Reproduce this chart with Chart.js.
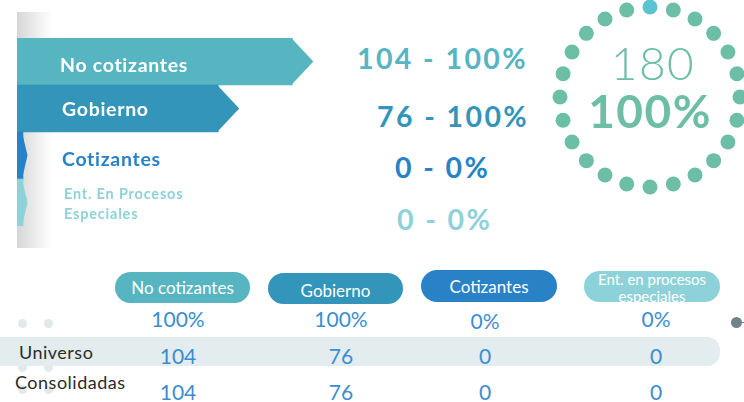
<!DOCTYPE html>
<html><head><meta charset="utf-8">
<script src="https://cdn.jsdelivr.net/npm/chart.js@4.4.0/dist/chart.umd.min.js"></script>
<style>
html,body{margin:0;padding:0;width:744px;height:402px;overflow:hidden;background:#fff;font-family:Lato,"Open Sans",sans-serif;}
body{position:relative;}
.abs{position:absolute;white-space:nowrap;}
#strip{position:absolute;left:17px;top:12px;width:36px;height:236px;background:linear-gradient(to right,#d6d6d6,#f4f4f4 70%,#ffffff);}
#bars{position:absolute;left:17px;top:38px;}
#ring{position:absolute;left:540px;top:-13px;}
.blabel{font-weight:700;transform:translateY(-50%);letter-spacing:0.7px;}
.val{font-weight:700;font-size:28.5px;letter-spacing:2.4px;transform:translateY(-50%);}
.pill{position:absolute;border-radius:16px;color:#fff;text-align:center;font-size:17px;display:flex;align-items:center;justify-content:center;overflow:hidden;}
.cell{position:absolute;color:#3a8ed0;font-size:21px;transform:translate(-50%,-50%);white-space:nowrap;}
.rowlab{position:absolute;color:#2b2b2b;font-size:18px;letter-spacing:0.5px;transform:translateY(-50%);white-space:nowrap;}
.ddot{position:absolute;width:9px;height:9px;border-radius:50%;background:#e3e8ea;}
#band{position:absolute;left:-14px;top:337px;width:734px;height:29px;border-radius:13px;background:#e3ecef;}
</style></head><body>
<div id="strip"></div>
<canvas id="bars" width="323" height="188"></canvas>
<canvas id="ring" width="220" height="220"></canvas>
<div id="overlay"></div>
<script>
// ---- data ----
const categories = ['No cotizantes', 'Gobierno', 'Cotizantes', 'Ent. En Procesos Especiales'];
const headerLabels = ['No cotizantes', 'Gobierno', 'Cotizantes', 'Ent. en procesos especiales'];
const universo = [104, 76, 0, 0];
const consolidadas = [104, 76, 0, 0];
const percentages = [100, 100, 0, 0];
const rowLabels = ['Universo', 'Consolidadas'];
const totalUniverso = 180;
const totalPercent = 100;
const ringDots = [100, 100, 100, 100, 100, 100, 100, 100, 100, 100, 100, 100,
                  100, 100, 100, 100, 100, 100, 100, 100, 100, 100, 100, 100];

// ---- styles ----
const colors = ['#56b5c1', '#3395b9', '#2a82c6', '#8ed2d9'];
const ringGreen = '#6dbea6';
const ringCyan = '#5cc3d2';

const overlay = document.getElementById('overlay');
function add(cls, text, css) {
  const d = document.createElement('div');
  d.className = cls;
  d.textContent = text;
  Object.assign(d.style, css);
  overlay.appendChild(d);
  return d;
}

// arrow tips on bars
const arrowTips = {
  id: 'arrowTips',
  afterDatasetsDraw(chart) {
    const ctx = chart.ctx;
    const meta = chart.getDatasetMeta(0);
    meta.data.forEach((el, i) => {
      const p = el.getProps(['x', 'y', 'base', 'height'], true);
      const len = p.x - p.base;
      const tip = Math.min(21, len * 0.75);
      ctx.save();
      ctx.fillStyle = colors[i];
      ctx.beginPath();
      ctx.moveTo(p.x - 1, p.y - p.height / 2);
      ctx.lineTo(p.x + tip, p.y);
      ctx.lineTo(p.x - 1, p.y + p.height / 2);
      ctx.closePath();
      ctx.fill();
      ctx.restore();
    });
  }
};

const barChart = new Chart(document.getElementById('bars'), {
  type: 'bar',
  data: {
    labels: categories,
    datasets: [{
      data: universo,
      backgroundColor: colors,
      borderWidth: 0,
      barPercentage: 1,
      categoryPercentage: 1,
      minBarLength: 6
    }]
  },
  options: {
    indexAxis: 'y',
    responsive: false,
    animation: false,
    layout: { padding: 0 },
    scales: {
      x: { display: false, min: 0, max: 122 },
      y: { display: false }
    },
    plugins: { legend: { display: false }, tooltip: { enabled: false } }
  },
  plugins: [arrowTips]
});

// bar labels placed from bar element positions
const barMeta = barChart.getDatasetMeta(0);
const labelStyles = [
  { left: '60px', fontSize: '19.5px', color: '#fff' },
  { left: '62px', fontSize: '19.5px', color: '#fff' },
  { left: '62px', fontSize: '19.5px', color: colors[2] },
  { left: '64px', fontSize: '14.5px', color: colors[3], whiteSpace: 'normal', width: '140px', lineHeight: '20px', letterSpacing: '0.8px' }
];
const labelDy = [2, -1, 2, 1];
categories.forEach((c, i) => {
  const y = 38 + barMeta.data[i].y + labelDy[i];
  add('abs blabel', c, Object.assign({ top: y + 'px' }, labelStyles[i]));
});

// value - percent texts
const valTops = [58, 116, 167, 219];
const valLefts = [357, 377, 395, 397];
categories.forEach((c, i) => {
  add('abs val', universo[i] + ' - ' + percentages[i] + '%', { left: valLefts[i] + 'px', top: valTops[i] + 'px', color: colors[i] });
});

// ring of dots
new Chart(document.getElementById('ring'), {
  type: 'radar',
  data: {
    labels: ringDots.map(() => ''),
    datasets: [{
      data: ringDots,
      showLine: false,
      fill: false,
      borderWidth: 0,
      pointRadius: 7.5,
      pointHoverRadius: 7.5,
      pointBorderWidth: 0,
      pointBackgroundColor: ringDots.map((v, i) => i === 0 ? ringCyan : ringGreen),
      clip: false
    }]
  },
  options: {
    responsive: false,
    animation: false,
    layout: { padding: 20 },
    scales: {
      r: {
        min: 0, max: 100, display: false,
        ticks: { display: false },
        pointLabels: { display: false },
        grid: { display: false },
        angleLines: { display: false }
      }
    },
    plugins: { legend: { display: false }, tooltip: { enabled: false } }
  }
});
add('abs', String(totalUniverso), { left: '553px', width: '200px', textAlign: 'center', top: '40px', fontSize: '46px', fontWeight: '300', color: ringGreen, lineHeight: '46px', letterSpacing: '1.5px' });
add('abs', totalPercent + '%', { left: '550px', width: '200px', textAlign: 'center', top: '88px', fontSize: '46px', fontWeight: '700', color: ringGreen, lineHeight: '46px', letterSpacing: '1.5px' });

// ---- bottom table ----
const deco = [[22, 323], [48, 323], [22, 345], [48, 345], [22, 367], [48, 367], [22, 389], [48, 389]];
deco.forEach(([x, y]) => { add('ddot', '', { left: (x - 4.5) + 'px', top: (y - 4.5) + 'px' }); });
const band = document.createElement('div'); band.id = 'band'; overlay.appendChild(band);

const pillBoxes = [[115, 272, 135, 31], [268, 273, 135, 31], [421, 270, 136, 32], [584, 271, 136, 31]];
headerLabels.forEach((h, i) => {
  const [x, y, w, ht] = pillBoxes[i];
  const p = add('pill', h, { left: x + 'px', top: y + 'px', width: w + 'px', height: ht + 'px', background: colors[i] });
  if (i === 3) { p.style.fontSize = '15px'; p.style.lineHeight = '17px'; p.style.alignItems = 'flex-start'; p.style.whiteSpace = 'normal'; p.style.padding = '0 10px'; p.style.boxSizing = 'border-box'; }
  if (i === 1) { p.style.paddingTop = '3px'; p.style.boxSizing = 'border-box'; }
});

const colX = [178, 341, 485, 656];
const pctY = [318, 318, 320, 318];
percentages.forEach((v, i) => add('cell', v + '%', { left: colX[i] + 'px', top: pctY[i] + 'px' }));
universo.forEach((v, i) => add('cell', String(v), { left: colX[i] + 'px', top: '355px' }));
consolidadas.forEach((v, i) => add('cell', String(v), { left: colX[i] + 'px', top: '391px' }));
add('rowlab', rowLabels[0], { left: '19px', top: '352px' });
add('rowlab', rowLabels[1], { left: '15px', top: '382px' });

// right marker dot
add('abs', '', { left: '731px', top: '317px', width: '11px', height: '11px', borderRadius: '50%', background: '#6f8489' });
add('abs', '', { left: '740px', top: '322px', width: '6px', height: '1px', background: '#6f8489' });
</script>
</body></html>
